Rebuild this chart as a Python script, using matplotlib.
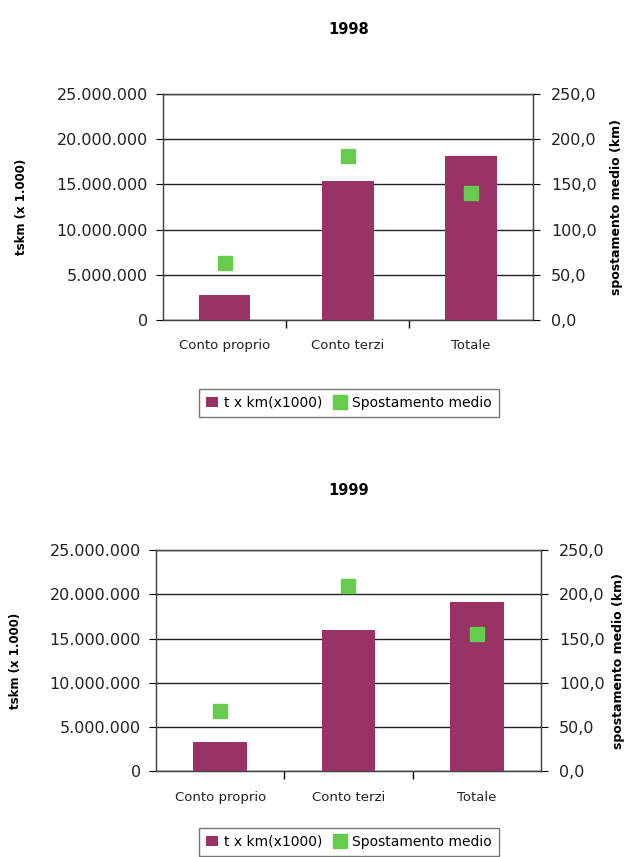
import numpy as np
import matplotlib.pyplot as plt
from matplotlib.ticker import FuncFormatter, FixedLocator

plt.rcParams['font.family'] = ['DejaVu Sans']

categorie = ["Conto proprio", "Conto terzi", "Totale"]

anni = ["1998", "1999"]
tkm_1998 = [2700000, 15400000, 18100000]
spost_1998 = [63, 182, 141]
tkm_1999 = [3300000, 16000000, 19100000]
spost_1999 = [68, 210, 155]

bar_color = "#993366"
sq_color = "#66cc4d"


def fmt_left(v, pos):
    return f"{int(v):,}".replace(",", ".")


def fmt_right(v, pos):
    return f"{v:.1f}".replace(".", ",")


def pannello(fig, rect, titolo, title_y, tkm, spost, leg_y, rpad):
    ax = fig.add_axes(rect)
    x = np.arange(len(categorie))
    b = ax.bar(x, tkm, width=0.42, color=bar_color, zorder=3)
    ax.set_xlim(-0.5, len(categorie) - 0.5)
    ax.set_ylim(0, 25000000)
    ax.set_yticks(np.arange(0, 25000001, 5000000))
    ax.yaxis.set_major_formatter(FuncFormatter(fmt_left))
    ax.grid(axis='y', color='#222222', linewidth=1.0, zorder=0)
    ax.set_xticks(x)
    ax.set_xticklabels(categorie, fontsize=9.5, color='#222222')
    ax.tick_params(axis='x', length=0, pad=14)
    ax.xaxis.set_minor_locator(FixedLocator([0.5, 1.5]))
    ax.tick_params(axis='x', which='minor', length=6, width=1, direction='out')
    ax.tick_params(axis='y', labelsize=11.5, length=5, pad=6, direction='out',
                   labelcolor='#222222')
    for s in ax.spines.values():
        s.set_color('#444444')
        s.set_linewidth(1.0)
    ax.set_ylabel("tskm (x 1.000)", fontsize=8.5, fontweight='bold', labelpad=20)
    fig.text(0.555, title_y, titolo, ha='center', va='center',
             fontsize=10.5, fontweight='bold')

    ax2 = ax.twinx()
    ax2.set_ylim(0, 250)
    ax2.set_yticks(np.arange(0, 251, 50))
    ax2.yaxis.set_major_formatter(FuncFormatter(fmt_right))
    s2, = ax2.plot(x, spost, linestyle='none', marker='s', markersize=10,
                   color=sq_color, zorder=4)
    ax2.tick_params(axis='y', labelsize=11.5, length=5, pad=8, direction='out',
                    labelcolor='#222222')
    for s in ax2.spines.values():
        s.set_color('#444444')
    ax2.set_ylabel("spostamento medio (km)", fontsize=9, fontweight='bold',
                   rotation=90, labelpad=rpad)

    leg = fig.legend([b, s2], ["t x km(x1000)", "Spostamento medio"],
                     loc='center', bbox_to_anchor=(0.555, leg_y), ncol=2,
                     fontsize=10, frameon=True, fancybox=False,
                     handlelength=0.8, handletextpad=0.5, columnspacing=0.8,
                     borderpad=0.5)
    leg.get_frame().set_edgecolor('#555555')
    leg.get_frame().set_linewidth(1.0)
    return ax


fig = plt.figure(figsize=(6.29, 8.57), dpi=100)
pannello(fig, [0.259, 0.627, 0.588, 0.263], anni[0], 0.965,
         tkm_1998, spost_1998, 0.530, 10)
pannello(fig, [0.248, 0.100, 0.612, 0.258], anni[1], 0.428,
         tkm_1999, spost_1999, 0.018, 5)

fig.savefig("out.png", dpi=100)
